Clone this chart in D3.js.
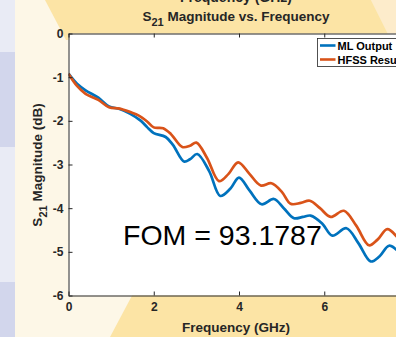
<!DOCTYPE html>
<html><head><meta charset="utf-8">
<script src="https://cdn.jsdelivr.net/npm/d3@7"></script>
<style>body{margin:0;background:#fdf7e7}svg{display:block}</style>
</head><body><svg id="c" width="396" height="337"></svg>
<script>
// ---- data ----
const freqML   = [0, 0.2, 0.4, 0.7, 0.95, 1.2, 1.45, 1.7, 1.85, 2.0, 2.28, 2.45, 2.71, 2.85, 3.02, 3.3, 3.56, 3.8, 4.0, 4.25, 4.53, 4.82, 5.05, 5.29, 5.5, 5.68, 5.95, 6.19, 6.52, 6.8, 7.09, 7.3, 7.52, 7.75, 8.0];
const magML    = [-0.92, -1.15, -1.3, -1.47, -1.67, -1.73, -1.84, -2.0, -2.15, -2.28, -2.37, -2.55, -2.93, -2.88, -2.76, -3.15, -3.72, -3.55, -3.3, -3.6, -3.91, -3.79, -4.0, -4.23, -4.2, -4.17, -4.35, -4.63, -4.46, -4.8, -5.22, -5.1, -4.86, -5.0, -5.25];
const freqHFSS = [0, 0.2, 0.4, 0.7, 0.95, 1.2, 1.45, 1.65, 1.85, 2.0, 2.22, 2.4, 2.67, 2.85, 3.0, 3.25, 3.53, 3.75, 3.98, 4.25, 4.51, 4.76, 5.0, 5.21, 5.45, 5.66, 5.9, 6.15, 6.46, 6.75, 7.05, 7.25, 7.48, 7.75, 8.0];
const magHFSS  = [-0.92, -1.2, -1.38, -1.52, -1.69, -1.72, -1.8, -1.88, -2.02, -2.15, -2.17, -2.3, -2.6, -2.57, -2.5, -2.85, -3.38, -3.22, -2.95, -3.22, -3.48, -3.43, -3.62, -3.9, -3.88, -3.83, -4.0, -4.2, -4.06, -4.4, -4.85, -4.72, -4.48, -4.7, -4.95];
const xTicks = [0, 2, 4, 6];
const yTicks = [0, -1, -2, -3, -4, -5, -6];
const seriesNames = ["ML Output", "HFSS Result"];
const seriesColors = ["#0072BD", "#D95319"];
const fomLabel = "FOM = 93.1787";

const svg = d3.select("#c");
const FONT = "'Liberation Sans', Arial, Helvetica, sans-serif";

// ---- slide background ----
svg.append("rect").attr("width", 396).attr("height", 337).attr("fill", "#fdf7e7");
[[0, 52, "#e9ebf5"], [52, 147, "#d2d6ec"], [147, 282, "#e9ebf5"], [282, 337, "#d2d6ec"]]
  .forEach(([a, b, c]) => svg.append("rect").attr("x", 0).attr("y", a).attr("width", 15).attr("height", b - a).attr("fill", c));
svg.append("polygon").attr("points", "371,0 396,0 396,40 391,40").attr("fill", "#fdeccb");
svg.append("polygon").attr("points", "45,0 371,0 391,40 66,40").attr("fill", "#fce4a5");
svg.append("polygon").attr("points", "135,290 396,290 396,337 110,337").attr("fill", "#fce4a5");

// partial label of the chart above
svg.append("text").attr("x", 236).attr("y", 2).attr("text-anchor", "middle")
  .attr("font-family", FONT).attr("font-weight", "bold").attr("font-size", 14).attr("fill", "#262626")
  .text("Frequency (GHz)");

// ---- scales ----
const x = d3.scaleLinear().domain([0, 8]).range([68.5, 409.5]);
const y = d3.scaleLinear().domain([-6, 0]).range([295.5, 33.5]);

svg.append("rect").attr("x", x(0)).attr("y", y(0)).attr("width", x(8) - x(0)).attr("height", y(-6) - y(0)).attr("fill", "#fff");

svg.append("clipPath").attr("id", "clip").append("rect")
  .attr("x", x(0)).attr("y", y(0)).attr("width", x(8) - x(0)).attr("height", y(-6) - y(0));

const line = d3.line().x(d => x(d[0])).y(d => y(d[1])).curve(d3.curveCatmullRom.alpha(0.5));
const series = [d3.zip(freqML, magML), d3.zip(freqHFSS, magHFSS)];
series.forEach((s, i) => {
  svg.append("path").attr("clip-path", "url(#clip)").datum(s).attr("d", line)
    .attr("fill", "none").attr("stroke", seriesColors[i]).attr("stroke-width", 2.7)
    .attr("stroke-linejoin", "round");
});

// ---- axes ----
function styleAxis(g) {
  g.selectAll("path,line").attr("stroke", "#262626").attr("stroke-width", 1);
  g.selectAll("text").attr("font-family", FONT).attr("font-weight", "bold").attr("font-size", 12).attr("fill", "#262626");
}
svg.append("g").attr("transform", `translate(0,${y(-6)})`)
  .call(d3.axisBottom(x).tickValues(xTicks).tickSizeInner(-4).tickSizeOuter(0).tickPadding(7).tickFormat(d => String(d)))
  .call(styleAxis);
svg.append("g").attr("transform", `translate(0,${y(0)})`)
  .call(d3.axisTop(x).tickValues(xTicks).tickSizeInner(-4).tickSizeOuter(0).tickFormat(""))
  .call(styleAxis);
svg.append("g").attr("transform", `translate(${x(0)},0)`)
  .call(d3.axisLeft(y).tickValues(yTicks).tickSizeInner(-4).tickSizeOuter(0).tickPadding(5).tickFormat(d => String(d)))
  .call(styleAxis);
svg.append("g").attr("transform", `translate(${x(8)},0)`)
  .call(d3.axisRight(y).tickValues(yTicks).tickSizeInner(-4).tickSizeOuter(0).tickFormat(""))
  .call(styleAxis);

// ---- titles ----
const title = svg.append("text").attr("x", 236).attr("y", 21).attr("text-anchor", "middle")
  .attr("font-family", FONT).attr("font-weight", "bold").attr("font-size", 13.5).attr("fill", "#262626");
title.append("tspan").text("S");
title.append("tspan").attr("dy", 5).attr("font-size", 11).text("21");
title.append("tspan").attr("dy", -5).text(" Magnitude vs. Frequency");

svg.append("text").attr("x", 236).attr("y", 332).attr("text-anchor", "middle")
  .attr("font-family", FONT).attr("font-weight", "bold").attr("font-size", 13.5).attr("fill", "#262626")
  .text("Frequency (GHz)");

const yl = svg.append("text").attr("transform", "translate(42,165) rotate(-90)").attr("text-anchor", "middle")
  .attr("font-family", FONT).attr("font-weight", "bold").attr("font-size", 13.5).attr("fill", "#262626");
yl.append("tspan").text("S");
yl.append("tspan").attr("dy", 5).attr("font-size", 11).text("21");
yl.append("tspan").attr("dy", -5).text(" Magnitude (dB)");

// ---- legend ----
const lg = svg.append("g").attr("transform", "translate(317.5,38.5)");
lg.append("rect").attr("width", 95).attr("height", 28).attr("fill", "#fff").attr("stroke", "#262626").attr("stroke-width", 0.8);
seriesNames.forEach((n, i) => {
  const yy = 7 + i * 14;
  lg.append("line").attr("x1", 2.5).attr("x2", 18).attr("y1", yy).attr("y2", yy)
    .attr("stroke", seriesColors[i]).attr("stroke-width", 2.6);
  lg.append("text").attr("x", 20).attr("y", yy + 4).attr("font-family", FONT).attr("font-weight", "bold")
    .attr("font-size", 11).attr("fill", "#000").text(n);
});

// ---- FOM annotation ----
svg.append("text").attr("x", 123).attr("y", 245).attr("font-family", FONT).attr("font-size", 28.5)
  .attr("fill", "#000").text(fomLabel);
</script></body></html>
